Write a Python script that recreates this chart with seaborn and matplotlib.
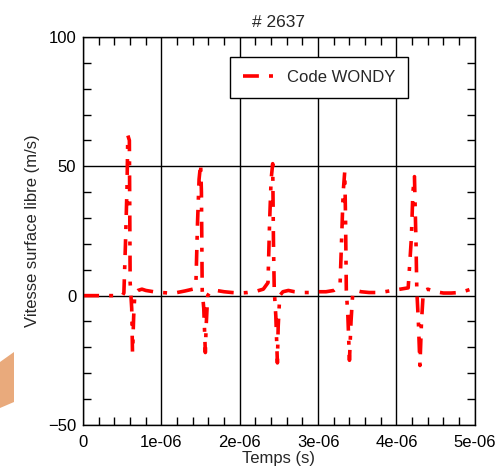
import matplotlib
matplotlib.use("Agg")
import matplotlib.pyplot as plt
import seaborn as sns
import pandas as pd
from matplotlib.ticker import MultipleLocator, FixedLocator
from matplotlib.patches import Polygon

# Data (time in microseconds, velocity in m/s)
time_us = [0.0, 0.3, 0.5, 0.52, 0.54, 0.56, 0.57, 0.59, 0.60, 0.62, 0.63, 0.645, 0.66, 0.70, 0.75, 0.80, 0.90, 1.00,
           1.10, 1.20, 1.30, 1.40, 1.44, 1.46, 1.48, 1.50, 1.51, 1.52, 1.54, 1.56, 1.57, 1.59, 1.62, 1.70, 1.80, 1.90,
           2.00, 2.10, 2.20, 2.30, 2.36, 2.38, 2.40, 2.42, 2.43, 2.44, 2.46, 2.48, 2.49, 2.51, 2.55, 2.62, 2.70, 2.80,
           2.90, 3.00, 3.10, 3.20, 3.28, 3.30, 3.32, 3.34, 3.35, 3.36, 3.38, 3.40, 3.42, 3.44, 3.48, 3.55, 3.65, 3.75,
           3.85, 3.95, 4.05, 4.15, 4.19, 4.21, 4.23, 4.25, 4.26, 4.28, 4.30, 4.32, 4.34, 4.36, 4.40, 4.50, 4.60, 4.70,
           4.80, 4.90, 5.00]
velocity = [0.0, 0.0, 0.0, 1.0, 20.0, 42.0, 62.0, 60.0, 5.0, -5.0, -22.0, -8.0, 1.0, 2.0, 2.5, 2.0, 1.5, 1.2,
            1.0, 1.2, 1.8, 2.5, 5.0, 28.0, 45.0, 51.0, 40.0, 2.0, -5.0, -22.0, -12.0, 0.0, 1.5, 2.0, 1.5, 1.2,
            1.0, 1.2, 1.6, 2.5, 5.0, 28.0, 45.0, 51.0, 20.0, 2.0, -8.0, -26.0, -12.0, 0.0, 1.5, 2.0, 1.5, 1.2,
            1.2, 1.5, 1.5, 2.0, 4.0, 22.0, 40.0, 48.0, 30.0, 2.0, -8.0, -25.0, -10.0, 0.0, 2.0, 1.5, 1.2, 1.2,
            1.5, 2.0, 2.5, 3.0, 22.0, 40.0, 46.0, 20.0, 2.0, -10.0, -27.0, -10.0, 0.0, 2.0, 2.5, 1.5, 1.0, 1.0,
            1.2, 2.0, 3.0]
series_label = "Code WONDY"
title_text = "# 2637"
x_tick_values = [0, 1e-06, 2e-06, 3e-06, 4e-06, 5e-06]
x_tick_labels = ["0", "1e-06", "2e-06", "3e-06", "4e-06", "5e-06"]
y_tick_values = [-50, 0, 50, 100]

df = pd.DataFrame({"t": [v * 1e-6 for v in time_us], "v": velocity, "series": series_label})

sns.set_style("ticks")
plt.rcParams["font.family"] = ["Liberation Sans", "DejaVu Sans"]

fig = plt.figure(figsize=(5.04, 4.73), dpi=100)

# decorative orange smear at bottom-left (from source slide)
W, H = 504.0, 473.0
blob_px = [[0, 362], [14, 352], [14, 402], [0, 408]]
blob = Polygon([[x / W, 1 - y / H] for x, y in blob_px], closed=True,
               transform=fig.transFigure, facecolor="#e9aa7c", edgecolor="none", zorder=0)
fig.patches.append(blob)

ax = fig.add_axes([0.165, 0.1015, 0.777, 0.8205])

sns.lineplot(data=df, x="t", y="v", hue="series", palette=["#ff0000"], ax=ax,
             linewidth=2.6, sort=False, estimator=None)
for line in ax.get_lines():
    line.set_dashes((4.4, 2.8, 1.1, 2.8))

ax.set_xlim(0, 5e-6)
ax.set_ylim(-50, 100)
ax.xaxis.set_major_locator(FixedLocator(x_tick_values))
ax.set_xticklabels(x_tick_labels)
ax.yaxis.set_major_locator(FixedLocator(y_tick_values))
ax.xaxis.set_minor_locator(MultipleLocator(0.2e-6))
ax.yaxis.set_minor_locator(MultipleLocator(10))
ax.tick_params(which="both", direction="in", top=True, right=True, labelsize=12, colors="black")
ax.tick_params(which="major", length=0)
ax.tick_params(axis="x", which="major", pad=7)
ax.tick_params(axis="y", which="major", pad=5)
ax.tick_params(which="minor", length=6, width=1)
ax.grid(True, which="major", color="black", linewidth=1)
for s in ax.spines.values():
    s.set_color("black")
    s.set_linewidth(1)

ax.set_xlabel("Temps (s)", fontsize=12, labelpad=1)
ax.set_ylabel("Vitesse surface libre (m/s)", fontsize=12, labelpad=6)
ax.set_title(title_text, fontsize=12.5, pad=7)

leg = ax.legend(loc="upper right", bbox_to_anchor=(0.83, 0.949), fontsize=12, frameon=True,
                fancybox=False, handlelength=1.9, handletextpad=0.75, borderpad=0.78, borderaxespad=0)
leg.get_frame().set_edgecolor("black")
leg.get_frame().set_linewidth(1)
leg.get_frame().set_alpha(1)

fig.savefig("out.png", dpi=100)
